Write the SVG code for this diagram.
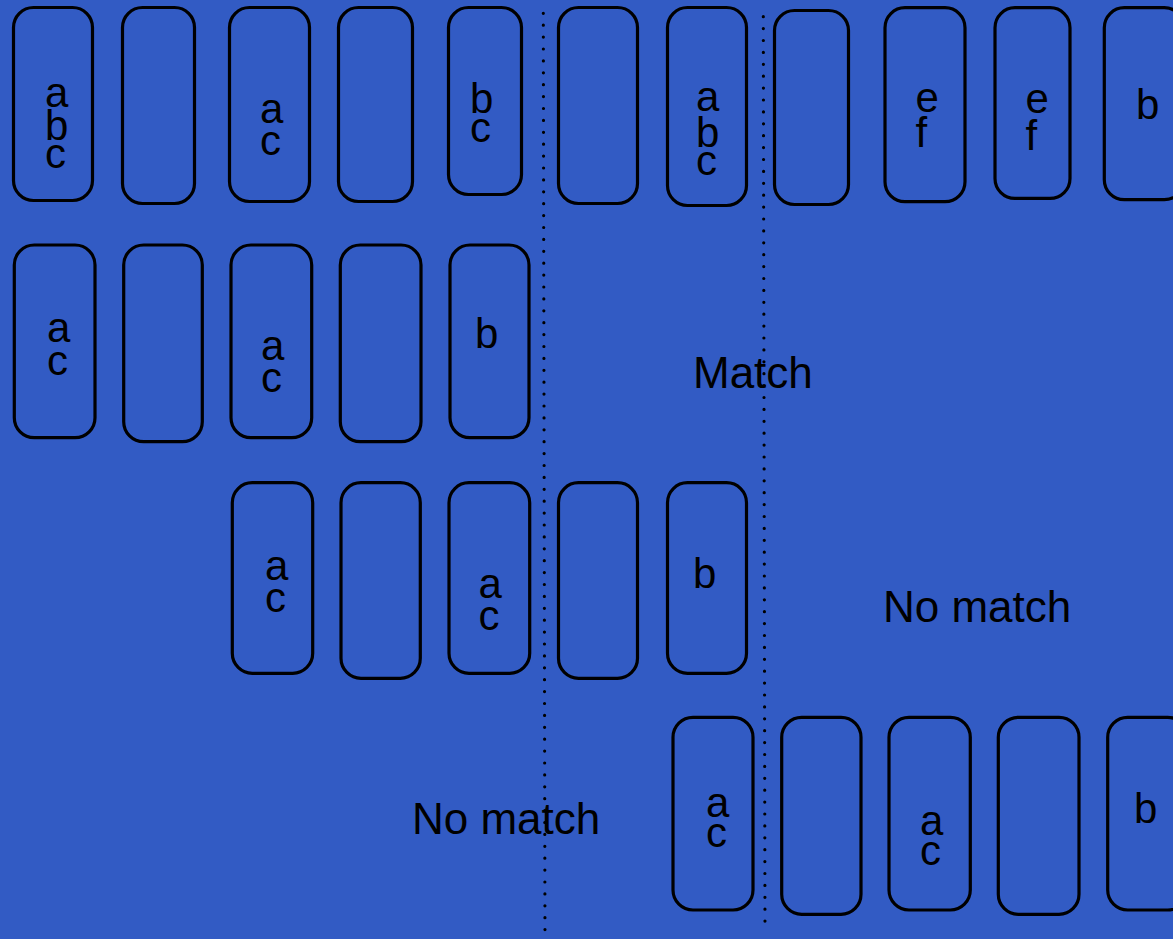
<svg xmlns="http://www.w3.org/2000/svg" width="1173" height="939" viewBox="0 0 1173 939">
<style>
.box{fill:none;stroke:#000;stroke-width:3.2}
.t{font-family:"Liberation Sans",Arial,sans-serif;font-size:42px;fill:#000}
.big{font-family:"Liberation Sans",Arial,sans-serif;font-size:44px;fill:#000}
.dot{fill:none;stroke:#000;stroke-width:3.2;stroke-linecap:round;stroke-dasharray:0 11.9}
</style>
<rect width="1173" height="939" fill="#325bc4"/>
<g id="connectors">
<line class="dot" x1="543.3" y1="13.3" x2="545" y2="945"/>
<line class="dot" x1="763.3" y1="16.7" x2="765" y2="930"/>
</g>
<g id="r1b1"><rect class="box" x="13.5" y="7.5" width="79" height="193" rx="20" ry="20"/><text class="t" x="45" y="107">a</text><text class="t" x="45" y="140">b</text><text class="t" x="45" y="168">c</text></g>
<g id="r1b2"><rect class="box" x="122.5" y="7.5" width="72" height="196" rx="20" ry="20"/></g>
<g id="r1b3"><rect class="box" x="229.5" y="7.5" width="80" height="194" rx="20" ry="20"/><text class="t" x="260" y="123">a</text><text class="t" x="260" y="155">c</text></g>
<g id="r1b4"><rect class="box" x="338.5" y="7.5" width="74" height="194" rx="20" ry="20"/></g>
<g id="r1b5"><rect class="box" x="448.5" y="7.5" width="73" height="187" rx="20" ry="20"/><text class="t" x="470" y="113">b</text><text class="t" x="470" y="142">c</text></g>
<g id="r1b6"><rect class="box" x="558.5" y="7.5" width="79" height="196" rx="20" ry="20"/></g>
<g id="r1b7"><rect class="box" x="667.5" y="7.5" width="79" height="198" rx="20" ry="20"/><text class="t" x="696" y="111">a</text><text class="t" x="696" y="147">b</text><text class="t" x="696" y="175">c</text></g>
<g id="r1b8"><rect class="box" x="774.5" y="10.5" width="74" height="194" rx="20" ry="20"/></g>
<g id="r1b9"><rect class="box" x="885" y="7.7" width="80" height="194" rx="20" ry="20"/><text class="t" x="915.5" y="112">e</text><text class="t" x="915.5" y="147">f</text></g>
<g id="r1b10"><rect class="box" x="995" y="7.7" width="75" height="190.7" rx="20" ry="20"/><text class="t" x="1025.5" y="113">e</text><text class="t" x="1025.5" y="150">f</text></g>
<g id="r1b11"><rect class="box" x="1104.3" y="7.7" width="80" height="192" rx="20" ry="20"/><text class="t" x="1136" y="119">b</text></g>
<g id="r2b1"><rect class="box" x="14.3" y="245" width="80.7" height="192.7" rx="20" ry="20"/><text class="t" x="47" y="342">a</text><text class="t" x="47" y="375">c</text></g>
<g id="r2b2"><rect class="box" x="123.7" y="245" width="78.6" height="196.7" rx="20" ry="20"/></g>
<g id="r2b3"><rect class="box" x="231" y="245" width="80.7" height="192.7" rx="20" ry="20"/><text class="t" x="261" y="360">a</text><text class="t" x="261" y="392">c</text></g>
<g id="r2b4"><rect class="box" x="340.3" y="245" width="80.7" height="196.7" rx="20" ry="20"/></g>
<g id="r2b5"><rect class="box" x="450" y="245" width="79" height="192.7" rx="20" ry="20"/><text class="t" x="475" y="348">b</text></g>
<g id="r3b1"><rect class="box" x="232.3" y="482.7" width="80.4" height="190.6" rx="20" ry="20"/><text class="t" x="265" y="580">a</text><text class="t" x="265" y="612">c</text></g>
<g id="r3b2"><rect class="box" x="341" y="482.7" width="79.3" height="195.6" rx="20" ry="20"/></g>
<g id="r3b3"><rect class="box" x="449" y="482.7" width="80.7" height="190.6" rx="20" ry="20"/><text class="t" x="478.5" y="598">a</text><text class="t" x="478.5" y="630">c</text></g>
<g id="r3b4"><rect class="box" x="558.5" y="482.7" width="79" height="195.6" rx="20" ry="20"/></g>
<g id="r3b5"><rect class="box" x="667.5" y="482.7" width="79" height="190.6" rx="20" ry="20"/><text class="t" x="693" y="588">b</text></g>
<g id="r4b1"><rect class="box" x="673" y="717.3" width="80" height="192.7" rx="20" ry="20"/><text class="t" x="706" y="817">a</text><text class="t" x="706" y="847">c</text></g>
<g id="r4b2"><rect class="box" x="781.7" y="717.3" width="79.3" height="197" rx="20" ry="20"/></g>
<g id="r4b3"><rect class="box" x="889" y="717.3" width="81.3" height="192.7" rx="20" ry="20"/><text class="t" x="920" y="835">a</text><text class="t" x="920" y="865">c</text></g>
<g id="r4b4"><rect class="box" x="998.3" y="717.3" width="80.7" height="197" rx="20" ry="20"/></g>
<g id="r4b5"><rect class="box" x="1107.7" y="717.3" width="80" height="192.7" rx="20" ry="20"/><text class="t" x="1134" y="823">b</text></g>
<g id="labels">
<text class="big" x="693" y="388">Match</text>
<text class="big" x="883" y="622">No match</text>
<text class="big" x="412" y="834">No match</text>
</g>
</svg>
